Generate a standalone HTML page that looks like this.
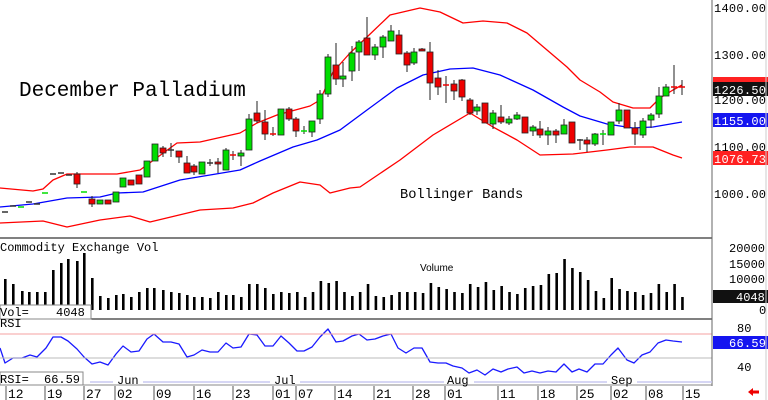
<!DOCTYPE html>
<html><head><meta charset="utf-8"><style>
html,body{margin:0;padding:0;background:#fff;width:768px;height:400px;overflow:hidden}
svg{display:block}
</style></head><body>
<svg id="s" width="768" height="400" xmlns="http://www.w3.org/2000/svg" font-family="Liberation Mono, monospace">
<rect width="768" height="400" fill="#fff"/>
<text x="19" y="96" font-size="21" fill="#000">December Palladium</text>
<text x="400" y="198" font-size="13.7" fill="#000">Bollinger Bands</text>
<text x="0" y="251" font-size="12" fill="#000">Commodity Exchange Vol</text>
<text x="420" y="271" font-size="10" font-family="Liberation Sans, sans-serif" fill="#000">Volume</text>
<g id="g"></g>
<line x1="0" y1="238" x2="712" y2="238" stroke="#000" stroke-width="1"/>
<line x1="0" y1="319" x2="712" y2="319" stroke="#000" stroke-width="1"/>
<line x1="0" y1="334" x2="712" y2="334" stroke="#f4a0a0" stroke-width="1"/>
<line x1="0" y1="358" x2="712" y2="358" stroke="#bbb" stroke-width="1"/>
<line x1="712" y1="0" x2="712" y2="386" stroke="#666" stroke-width="1"/>
<line x1="90" y1="382" x2="712" y2="382" stroke="#c8c8f0" stroke-width="1.5"/>
<line x1="0" y1="385" x2="712" y2="385" stroke="#888" stroke-width="1"/>
<rect x="0" y="305" width="91" height="14" fill="#fff" stroke="#888"/>
<text x="0" y="316" font-size="12">Vol=</text><text x="56" y="316" font-size="12">4048</text>
<rect x="0" y="372" width="83" height="13" fill="#fff" stroke="#888"/>
<text x="0" y="383" font-size="12">RSI=</text><text x="44" y="383" font-size="12">66.59</text>
<text x="0" y="327" font-size="12">RSI</text>
<g font-size="12" fill="#000">
<rect x="113" y="374" width="30" height="10" fill="#fff"/><text x="117" y="384">Jun</text>
<rect x="270" y="374" width="30" height="10" fill="#fff"/><text x="274" y="384">Jul</text>
<rect x="444" y="374" width="30" height="10" fill="#fff"/><text x="447" y="384">Aug</text>
<rect x="607" y="374" width="30" height="10" fill="#fff"/><text x="611" y="384">Sep</text>
</g>
<g id="dates" font-size="13" fill="#000"></g>
<g font-size="12" fill="#000">
<text x="714" y="12" textLength="52">1400.00</text>
<text x="714" y="59" textLength="52">1300.00</text>
<text x="714" y="104" textLength="52">1200.00</text>
<text x="714" y="151" textLength="52">1100.00</text>
<text x="714" y="198" textLength="52">1000.00</text>
<rect x="713" y="77" width="55" height="8" fill="#f22"/>
<rect x="713" y="82" width="55" height="14" fill="#111"/><text x="714" y="94" fill="#fff" textLength="52">1226.50</text>
<rect x="713" y="113" width="55" height="14" fill="#1515f0"/><text x="714" y="125" fill="#fff" textLength="52">1155.00</text>
<rect x="713" y="151" width="55" height="14" fill="#f22"/><text x="714" y="163" fill="#fff" textLength="52">1076.73</text>
<text x="729" y="252">20000</text>
<text x="729" y="268">15000</text>
<text x="729" y="283">10000</text>
<rect x="713" y="290" width="55" height="13" fill="#111"/><text x="736" y="301" fill="#fff">4048</text>
<text x="759" y="314">0</text>
<text x="737" y="332">80</text>
<rect x="713" y="336" width="55" height="13" fill="#1515f0"/><text x="729" y="347" fill="#fff" textLength="37">66.59</text>
<text x="737" y="371">40</text>
</g>
<line x1="766" y1="0" x2="766" y2="400" stroke="#ccc"/>
<path d="M748 392 l5 -4 v2.5 h6 v3 h-6 v2.5z" fill="#e00"/>
</svg>
<script>
var g=document.getElementById('g'),h='';
function pl(p,c,w){h+='<polyline fill="none" stroke="'+c+'" stroke-width="'+(w||1.3)+'" stroke-linejoin="round" points="'+p.map(function(a){return a.join(',')}).join(' ')+'"/>';}
pl([[0,188],[33,191],[43,189],[53,180],[67,174],[117,174],[140,170],[177,143],[200,142],[240,133],[257,123],[277,115],[310,106],[320,100],[333,72],[350,53],[367,37],[390,15],[420,8],[440,12],[463,23],[483,21],[507,23],[527,33],[547,50],[567,67],[580,80],[600,92],[613,102],[633,108],[650,108],[660,98],[673,90],[682,85]],'#f00');
pl([[0,207],[33,204],[67,198],[100,197],[117,193],[143,192],[180,180],[240,170],[260,161],[293,147],[317,140],[340,130],[367,110],[397,88],[423,75],[450,69],[473,68],[500,75],[533,90],[563,107],[580,116],[607,124],[633,128],[653,127],[682,122]],'#00f');
pl([[0,223],[43,221],[67,227],[100,220],[130,216],[150,222],[200,210],[233,208],[253,203],[273,193],[300,182],[320,185],[330,193],[350,188],[360,187],[400,160],[433,135],[470,113],[493,127],[517,140],[540,155],[573,154],[607,150],[630,147],[653,147],[673,155],[682,158]],'#f00');
var C=[[5,212,212,'k'],[13,206,206,'k'],[21,207,207,'g'],[29,202,202,'k'],[37,204,204,'k'],[45,193,193,'g'],[53,174,174,'k'],[61,173,173,'k'],[69,175,175,'k'],[77,174,184,'r',172,188],[84,192,192,'g'],[92,199,204,'r',196,207],[100,200,204,'g'],[108,200,204,'r'],[116,192,202,'g'],[123,178,187,'g'],[131,180,185,'r'],[139,175,184,'r'],[147,161,177,'g'],[155,144,161,'g'],[163,148,153,'r',146,157],[171,150,150,'k',143,157],[179,151,157,'r',151,163],[187,163,173,'r',156,173],[194,166,172,'r',164,175],[202,162,174,'g'],[210,163,163,'k',159,166],[218,162,164,'r',158,173],[226,150,170,'g',148,170],[233,155,155,'r',151,160],[241,153,156,'g',150,166],[249,119,150,'g',114,150],[257,113,121,'r',101,123],[265,122,134,'r',110,140],[273,134,134,'r',127,136],[281,109,135,'g'],[289,109,119,'r',107,121],[296,119,131,'r',117,137],[304,131,131,'g',126,134],[312,121,132,'g',121,137],[320,94,119,'g',90,124],[328,57,94,'g',54,97],[336,65,79,'r',43,85],[343,76,79,'g',62,87],[352,53,71,'g',46,81],[359,42,52,'g',40,71],[367,38,55,'r',17,55],[375,47,55,'g',44,60],[383,37,47,'g',35,58],[391,31,41,'g',25,41],[399,35,54,'r',30,54],[407,53,65,'r',51,72],[414,52,63,'g',48,65],[422,49,51,'r',48,51],[430,52,83,'r',42,100],[438,78,87,'r',70,95],[446,85,85,'r',76,103],[454,84,91,'r',80,100],[462,80,97,'r',79,101],[470,100,113,'r',98,115],[477,107,111,'g',104,115],[485,103,123,'r'],[493,113,124,'g',110,129],[501,117,122,'r',105,124],[509,119,123,'g',116,125],[517,115,119,'g',112,120],[525,117,133,'r'],[533,127,131,'g',125,136],[540,129,135,'r',121,138],[548,131,135,'g',127,145],[556,131,135,'r',129,143],[564,125,134,'g',119,134],[572,122,143,'r'],[580,140,140,'k',139,150],[587,140,144,'r',137,152],[595,134,144,'g',133,146],[603,134,134,'g',130,145],[611,122,135,'g',122,135],[619,110,121,'g',103,124],[627,110,128,'r'],[635,128,134,'r',122,145],[643,121,135,'g',118,138],[651,115,120,'g',113,128],[659,96,114,'g',87,118],[666,87,96,'g',84,96],[674,87,87,'r',65,94],[682,87,87,'r',80,95]];
C.forEach(function(c){var x=c[0],col=c[3]=='g'?'#0d0':c[3]=='r'?'#e00':'#333';
 if(c[4]!==undefined)h+='<line x1="'+x+'" y1="'+c[4]+'" x2="'+x+'" y2="'+c[5]+'" stroke="#222" stroke-width="1"/>';
 if(c[2]-c[1]<2)h+='<line x1="'+(x-3)+'" y1="'+c[1]+'" x2="'+(x+3)+'" y2="'+c[1]+'" stroke="'+col+'" stroke-width="1.5"/>';
 else h+='<rect x="'+(x-3)+'" y="'+c[1]+'" width="6" height="'+(c[2]-c[1])+'" fill="'+col+'" stroke="#222" stroke-width="0.8"/>';});
var V=[[5,279],[13,284],[22,291],[29,292],[37,292],[45,292],[53,270],[61,263],[68,259],[77,261],[84,253],[92,278],[100,296],[108,298],[116,295],[123,294],[131,297],[139,292],[147,288],[154,288],[163,290],[171,292],[179,293],[187,295],[194,297],[202,297],[210,298],[218,292],[226,295],[233,295],[241,297],[249,284],[257,284],[265,288],[273,294],[281,292],[289,293]];
var R=[292,297,292,281,283,281,292,296,292,284,296,297,295,292,292,292,293,283,287,289,292,293,284,287,282,290,286,292,294,288,286,285,274,273,259,268,272,280,291,298,278,289,291,292,295,293,284,292,284,297];
R.forEach(function(y,i){V.push([297+i*7.86,y]);});
V.forEach(function(v){h+='<rect x="'+(v[0]-1)+'" y="'+v[1]+'" width="2.6" height="'+(310-v[1])+'" fill="#000"/>';});
var S=[[0,348],[5,363],[13,358],[22,358],[30,355],[37,357],[46,348],[53,337],[61,337],[68,341],[77,349],[84,357],[92,364],[100,362],[108,365],[116,354],[123,346],[131,352],[139,351],[147,339],[154,334],[163,342],[171,342],[179,344],[187,357],[194,355],[202,350],[210,352],[218,352],[226,343],[233,348],[241,347],[249,334],[257,335],[265,346],[273,346],[281,336],[289,343],[297,351],[304,351],[312,347],[320,337],[328,329],[336,342],[343,341],[352,336],[359,334],[367,340],[375,339],[383,336],[391,334],[398,348],[406,353],[414,348],[422,348],[430,362],[438,363],[446,363],[453,366],[462,368],[469,373],[477,370],[485,375],[493,369],[501,372],[508,369],[517,367],[524,373],[532,371],[540,373],[548,371],[556,372],[564,364],[572,372],[579,369],[587,372],[595,364],[603,364],[611,355],[618,348],[627,360],[634,363],[642,355],[650,352],[658,343],[666,340],[673,341],[682,342]];
pl(S,'#1a1aff',1.3);
g.innerHTML=h;
var d='',D=[['12',8],['19',47],['27',86],['02',117],['09',156],['16',196],['23',235],['01',275],['07',298],['14',337],['21',376],['28',415],['01',447],['11',500],['18',540],['25',579],['02',613],['08',648],['15',685]];
D.forEach(function(a){d+='<line x1="'+(a[1]-2)+'" y1="386" x2="'+(a[1]-2)+'" y2="400" stroke="#555"/><text x="'+a[1]+'" y="398">'+a[0]+'</text>';});
document.getElementById('dates').innerHTML=d;
</script>
</body></html>
